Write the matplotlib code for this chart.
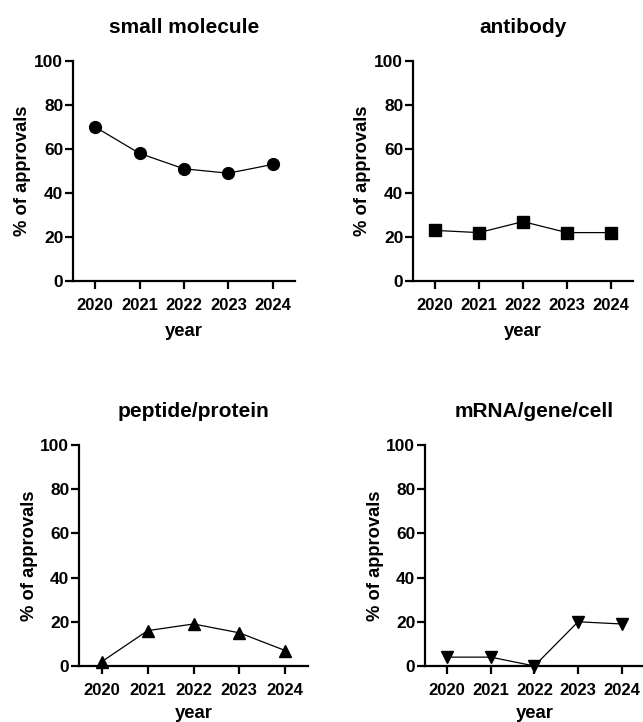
import matplotlib
matplotlib.use("Agg")
import matplotlib.pyplot as plt

plt.rcParams['font.family'] = ['Liberation Sans', 'DejaVu Sans']
plt.rcParams['font.weight'] = 'bold'

years = [2020, 2021, 2022, 2023, 2024]
small_molecule = [70, 58, 51, 49, 53]
antibody = [23, 22, 27, 22, 22]
peptide_protein = [2, 16, 19, 15, 7]
mrna_gene_cell = [4, 4, 0, 20, 19]

# title, values, marker, axes rect, xlabel pad
panels = [
    ("small molecule", small_molecule, 'o', [0.1135, 0.6108, 0.3453, 0.3047], 7.5),
    ("antibody", antibody, 's', [0.6423, 0.6108, 0.3421, 0.3047], 7.5),
    ("peptide/protein", peptide_protein, '^', [0.1229, 0.0776, 0.3561, 0.3061], 5),
    ("mRNA/gene/cell", mrna_gene_cell, 'v', [0.661, 0.0776, 0.3400, 0.3061], 5),
]

fig = plt.figure(figsize=(6.43, 7.22), dpi=100)

for title, vals, mk, rect, xpad in panels:
    ax = fig.add_axes(rect)
    ax.plot(years, vals, color='black', linewidth=0.9, marker=mk,
            markersize=8.5, clip_on=False, zorder=5)
    ax.set_xlim(2019.5, 2024.5)
    ax.set_ylim(0, 100)
    ax.set_xticks(years)
    ax.set_yticks([0, 20, 40, 60, 80, 100])
    ax.spines['top'].set_visible(False)
    ax.spines['right'].set_visible(False)
    for s in ['left', 'bottom']:
        ax.spines[s].set_linewidth(1.6)
    ax.tick_params(width=1.6, length=5.5, labelsize=12)
    ax.tick_params(axis='x', pad=6.5)
    ax.tick_params(axis='y', pad=1.5, labelsize=12.5)
    for lab in ax.get_xticklabels() + ax.get_yticklabels():
        lab.set_fontweight('bold')
    ax.set_title(title, fontsize=15, fontweight='bold', pad=20)
    ax.set_xlabel('year', fontsize=13.3, fontweight='bold', labelpad=xpad)
    ax.set_ylabel('% of approvals', fontsize=13.2, fontweight='bold', labelpad=2)

fig.savefig('out.png', dpi=100)
